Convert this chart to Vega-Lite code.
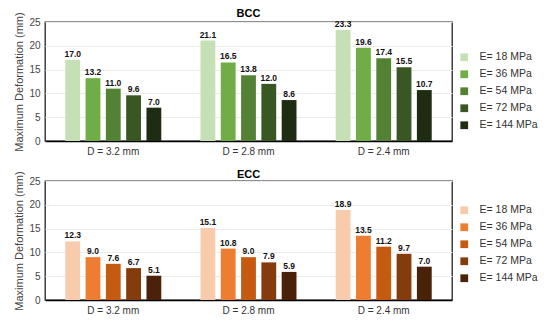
{
  "$schema": "https://vega.github.io/schema/vega-lite/v6.json",
  "padding": {"left": 13, "top": 7, "right": 4, "bottom": 0},
  "background": "white",
  "config": {
    "font": "Liberation Sans",
    "view": {"stroke": "#222", "strokeWidth": 1.3},
    "axis": {"labelFont": "Liberation Sans", "titleFont": "Liberation Sans"},
    "concat": {"spacing": 11}
  },
  "datasets": {
    "bcc": [
      {"D": "D = 3.2 mm", "E": "E= 18 MPa", "value": 17.0},
      {"D": "D = 3.2 mm", "E": "E= 36 MPa", "value": 13.2},
      {"D": "D = 3.2 mm", "E": "E= 54 MPa", "value": 11.0},
      {"D": "D = 3.2 mm", "E": "E= 72 MPa", "value": 9.6},
      {"D": "D = 3.2 mm", "E": "E= 144 MPa", "value": 7.0},
      {"D": "D = 2.8 mm", "E": "E= 18 MPa", "value": 21.1},
      {"D": "D = 2.8 mm", "E": "E= 36 MPa", "value": 16.5},
      {"D": "D = 2.8 mm", "E": "E= 54 MPa", "value": 13.8},
      {"D": "D = 2.8 mm", "E": "E= 72 MPa", "value": 12.0},
      {"D": "D = 2.8 mm", "E": "E= 144 MPa", "value": 8.6},
      {"D": "D = 2.4 mm", "E": "E= 18 MPa", "value": 23.3},
      {"D": "D = 2.4 mm", "E": "E= 36 MPa", "value": 19.6},
      {"D": "D = 2.4 mm", "E": "E= 54 MPa", "value": 17.4},
      {"D": "D = 2.4 mm", "E": "E= 72 MPa", "value": 15.5},
      {"D": "D = 2.4 mm", "E": "E= 144 MPa", "value": 10.7}
    ],
    "ecc": [
      {"D": "D = 3.2 mm", "E": "E= 18 MPa", "value": 12.3},
      {"D": "D = 3.2 mm", "E": "E= 36 MPa", "value": 9.0},
      {"D": "D = 3.2 mm", "E": "E= 54 MPa", "value": 7.6},
      {"D": "D = 3.2 mm", "E": "E= 72 MPa", "value": 6.7},
      {"D": "D = 3.2 mm", "E": "E= 144 MPa", "value": 5.1},
      {"D": "D = 2.8 mm", "E": "E= 18 MPa", "value": 15.1},
      {"D": "D = 2.8 mm", "E": "E= 36 MPa", "value": 10.8},
      {"D": "D = 2.8 mm", "E": "E= 54 MPa", "value": 9.0},
      {"D": "D = 2.8 mm", "E": "E= 72 MPa", "value": 7.9},
      {"D": "D = 2.8 mm", "E": "E= 144 MPa", "value": 5.9},
      {"D": "D = 2.4 mm", "E": "E= 18 MPa", "value": 18.9},
      {"D": "D = 2.4 mm", "E": "E= 36 MPa", "value": 13.5},
      {"D": "D = 2.4 mm", "E": "E= 54 MPa", "value": 11.2},
      {"D": "D = 2.4 mm", "E": "E= 72 MPa", "value": 9.7},
      {"D": "D = 2.4 mm", "E": "E= 144 MPa", "value": 7.0}
    ]
  },
  "resolve": {"scale": {"color": "independent"}, "legend": {"color": "independent"}},
  "vconcat": [
    {
      "title": {"text": "BCC", "fontSize": 11, "fontWeight": "bold", "offset": -9, "color": "#000"},
      "width": 407,
      "height": 119,
      "data": {"name": "bcc"},
      "encoding": {
        "x": {"field": "D", "type": "nominal", "sort": ["D = 3.2 mm", "D = 2.8 mm", "D = 2.4 mm"],
          "scale": {"paddingInner": 0.29, "paddingOuter": 0.15},
          "axis": {"title": null, "labelAngle": 0, "ticks": false, "domainColor": "#000", "domainWidth": 1.6, "labelFontSize": 10, "labelColor": "#333", "labelPadding": 5}},
        "xOffset": {"field": "E", "type": "nominal", "sort": ["E= 18 MPa", "E= 36 MPa", "E= 54 MPa", "E= 72 MPa", "E= 144 MPa"], "scale": {"paddingInner": 0.27}},
        "y": {"field": "value", "type": "quantitative", "scale": {"domain": [0, 25]},
          "axis": {"values": [0, 5, 10, 15, 20, 25], "title": "Maximum  Deformation (mm)", "titleFontWeight": "normal", "titleFontSize": 11, "titleColor": "#444", "grid": true, "gridColor": "#ececec", "domain": false, "ticks": false, "labelColor": "#444", "labelFontSize": 10, "labelPadding": 5}}
      },
      "layer": [
        {
          "mark": {"type": "bar"},
          "encoding": {
            "color": {"field": "E", "type": "nominal", "sort": ["E= 18 MPa", "E= 36 MPa", "E= 54 MPa", "E= 72 MPa", "E= 144 MPa"],
              "scale": {"range": ["#c5e0b4", "#70ad47", "#548235", "#385723", "#1e2d12"]},
              "legend": {"title": null, "orient": "none", "legendX": 414, "legendY": 30, "symbolType": "square", "symbolSize": 60, "symbolStrokeWidth": 0, "labelFontSize": 10.5, "labelColor": "#333", "rowPadding": 6, "labelOffset": 10}}
          }
        },
        {
          "mark": {"type": "text", "dy": -6, "fontWeight": "bold", "fontSize": 8.5, "color": "#111"},
          "encoding": {"text": {"field": "value", "type": "quantitative", "format": ".1f"}}
        }
      ]
    },
    {
      "title": {"text": "ECC", "fontSize": 11, "fontWeight": "bold", "offset": -9, "color": "#000"},
      "width": 407,
      "height": 119,
      "data": {"name": "ecc"},
      "encoding": {
        "x": {"field": "D", "type": "nominal", "sort": ["D = 3.2 mm", "D = 2.8 mm", "D = 2.4 mm"],
          "scale": {"paddingInner": 0.29, "paddingOuter": 0.15},
          "axis": {"title": null, "labelAngle": 0, "ticks": false, "domainColor": "#000", "domainWidth": 1.6, "labelFontSize": 10, "labelColor": "#333", "labelPadding": 5}},
        "xOffset": {"field": "E", "type": "nominal", "sort": ["E= 18 MPa", "E= 36 MPa", "E= 54 MPa", "E= 72 MPa", "E= 144 MPa"], "scale": {"paddingInner": 0.27}},
        "y": {"field": "value", "type": "quantitative", "scale": {"domain": [0, 25]},
          "axis": {"values": [0, 5, 10, 15, 20, 25], "title": "Maximum Deformation (mm)", "titleFontWeight": "normal", "titleFontSize": 11, "titleColor": "#444", "grid": true, "gridColor": "#ececec", "domain": false, "ticks": false, "labelColor": "#444", "labelFontSize": 10, "labelPadding": 5}}
      },
      "layer": [
        {
          "mark": {"type": "bar"},
          "encoding": {
            "color": {"field": "E", "type": "nominal", "sort": ["E= 18 MPa", "E= 36 MPa", "E= 54 MPa", "E= 72 MPa", "E= 144 MPa"],
              "scale": {"range": ["#f8cbad", "#ed7d31", "#c55a11", "#843c0c", "#4a220a"]},
              "legend": {"title": null, "orient": "none", "legendX": 414, "legendY": 24, "symbolType": "square", "symbolSize": 60, "symbolStrokeWidth": 0, "labelFontSize": 10.5, "labelColor": "#333", "rowPadding": 6, "labelOffset": 10}}
          }
        },
        {
          "mark": {"type": "text", "dy": -6, "fontWeight": "bold", "fontSize": 8.5, "color": "#111"},
          "encoding": {"text": {"field": "value", "type": "quantitative", "format": ".1f"}}
        }
      ]
    }
  ]
}
